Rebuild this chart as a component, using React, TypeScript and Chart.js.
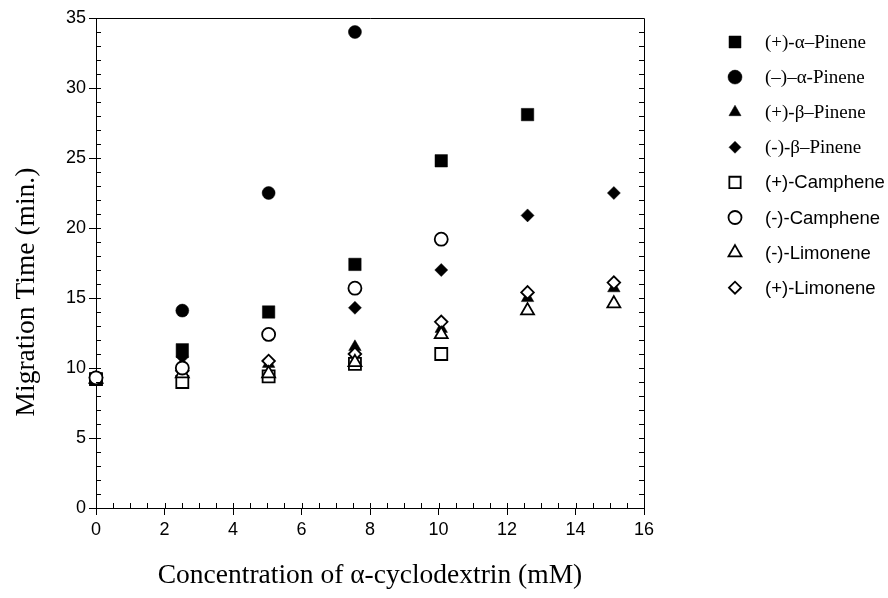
import React, { useEffect, useRef } from "react";
import { Chart, registerables } from "chart.js";
import { drawPoint } from "chart.js/helpers";

Chart.register(...registerables);

// ---- data ----
const CONC = [0, 2.52, 5.04, 7.56, 10.08, 12.6, 15.12];

const LABELS = [
  "(+)-α–Pinene",
  "(–)–α-Pinene",
  "(+)-β–Pinene",
  "(-)-β–Pinene",
  "(+)-Camphene",
  "(-)-Camphene",
  "(-)-Limonene",
  "(+)-Limonene",
];

const PLUS_A_PINENE = [9.2, 11.3, 14.0, 17.4, 24.8, 28.1, null];
const MINUS_A_PINENE = [9.3, 14.1, 22.5, 34.0, null, null, null];
const PLUS_B_PINENE = [9.2, 11.0, 10.3, 11.5, 12.8, 15.0, 15.7];
const MINUS_B_PINENE = [9.2, 10.8, 10.5, 14.3, 17.0, 20.9, 22.5];
const PLUS_CAMPHENE = [9.2, 9.0, 9.4, 10.3, 11.0, null, null];
const MINUS_CAMPHENE = [9.3, 10.0, 12.4, 15.7, 19.2, null, null];
const MINUS_LIMONENE = [9.2, 9.6, 9.6, 10.4, 12.4, 14.1, 14.6];
const PLUS_LIMONENE = [9.3, 9.8, 10.5, 11.0, 13.3, 15.4, 16.1];

const SERIES = [
  PLUS_A_PINENE,
  MINUS_A_PINENE,
  PLUS_B_PINENE,
  MINUS_B_PINENE,
  PLUS_CAMPHENE,
  MINUS_CAMPHENE,
  MINUS_LIMONENE,
  PLUS_LIMONENE,
];

const STYLES = ["rect", "circle", "triangle", "rectRot", "rect", "circle", "triangle", "rectRot"];
const FILLED = [true, true, true, true, false, false, false, false];
const DRAW_ORDER = [2, 2, 2, 2, 3, 1, 1, 1];
const RADII = [8.8, 6.5, 7.2, 6.5, 8.5, 6.5, 7.5, 6.3];
const LEGEND_RADII = [8.5, 7, 7, 6, 8, 6.5, 7.5, 6];
const LEGEND_SERIF = [true, true, true, true, false, false, false, false];

const X_TICK_STEP = 2;
const Y_TICK_STEP = 5;

const SERIF = "'Liberation Serif', 'DejaVu Serif', serif";
const SANS = "'Liberation Sans', Arial, sans-serif";

const decorPlugin = {
  id: "decor",
  afterDraw(chart: any) {
    const { ctx, chartArea: ca, scales } = chart;
    const xs = scales.x;
    const ys = scales.y;
    ctx.save();
    ctx.strokeStyle = "#000";
    ctx.lineWidth = 1;
    ctx.beginPath();
    // top & right frame
    ctx.moveTo(ca.left, ca.top + 0.5);
    ctx.lineTo(ca.right + 0.5, ca.top + 0.5);
    ctx.lineTo(ca.right + 0.5, ca.bottom);
    // minor ticks inside
    for (let v = 0; v <= 16.001; v += 0.5) {
      const px = Math.round(xs.getPixelForValue(v)) + 0.5;
      ctx.moveTo(px, ca.bottom);
      ctx.lineTo(px, ca.bottom - 5);
    }
    for (let v = 0; v <= 35.001; v += 1) {
      const py = Math.round(ys.getPixelForValue(v)) + 0.5;
      ctx.moveTo(ca.left, py);
      ctx.lineTo(ca.left + 5, py);
      ctx.moveTo(ca.right, py);
      ctx.lineTo(ca.right - 5, py);
    }
    ctx.stroke();

    // y title
    ctx.fillStyle = "#000";
    ctx.font = `27.5px ${SERIF}`;
    ctx.textAlign = "center";
    ctx.textBaseline = "middle";
    ctx.save();
    ctx.translate(27, 292);
    ctx.rotate(-Math.PI / 2);
    ctx.fillText("Migration Time (min.)", 0, 0);
    ctx.restore();

    // legend
    chart.data.datasets.forEach((ds: any, i: number) => {
      const y = 42 + i * 35.1;
      const x = 735;
      ctx.fillStyle = FILLED[i] ? "#000" : "#fff";
      ctx.strokeStyle = "#000";
      ctx.lineWidth = FILLED[i] ? 0.5 : 1.8;
      drawPoint(ctx, { pointStyle: STYLES[i], radius: LEGEND_RADII[i], rotation: 0, borderWidth: ctx.lineWidth }, x, y);
      ctx.fillStyle = "#000";
      ctx.textAlign = "left";
      ctx.textBaseline = "middle";
      ctx.font = LEGEND_SERIF[i] ? `19px ${SERIF}` : `18.5px ${SANS}`;
      ctx.fillText(ds.label, 765, y + 1);
    });
    ctx.restore();
  },
};

export default function App() {
  const ref = useRef<HTMLCanvasElement>(null);
  useEffect(() => {
    document.body.style.margin = "0";
    document.body.style.overflow = "hidden";
    const datasets = SERIES.map((vals, i) => ({
      label: LABELS[i],
      data: CONC.map((c, j) => ({ x: c, y: vals[j] })).filter((p) => p.y !== null),
      pointStyle: STYLES[i],
      pointRadius: RADII[i],
      pointHoverRadius: RADII[i],
      backgroundColor: FILLED[i] ? "#000" : "#fff",
      borderColor: "#000",
      borderWidth: FILLED[i] ? 0.5 : 1.8,
      showLine: false,
      clip: false as any,
      order: DRAW_ORDER[i],
    }));
    const chart = new Chart(ref.current!, {
      type: "scatter",
      data: { datasets },
      plugins: [decorPlugin],
      options: {
        animation: false,
        responsive: false,
        layout: { padding: { left: 0, top: 18, right: 244, bottom: 0 } },
        plugins: { legend: { display: false }, tooltip: { enabled: false } },
        scales: {
          x: {
            type: "linear",
            min: 0,
            max: 16,
            ticks: { stepSize: X_TICK_STEP, color: "#000", font: { family: SANS, size: 18 }, padding: 4 },
            grid: { drawOnChartArea: false, color: "#000", tickLength: 7 },
            border: { color: "#000", width: 1 },
            title: {
              display: true,
              text: "Concentration of α-cyclodextrin (mM)",
              color: "#000",
              font: { family: SERIF, size: 27.5 },
              padding: { top: 0, bottom: 6 },
            },
            afterFit: (s: any) => {
              s.height = 90;
            },
          },
          y: {
            type: "linear",
            min: 0,
            max: 35,
            ticks: { stepSize: Y_TICK_STEP, color: "#000", font: { family: SANS, size: 18 }, padding: 3 },
            grid: { drawOnChartArea: false, color: "#000", tickLength: 7 },
            border: { color: "#000", width: 1 },
            afterFit: (s: any) => {
              s.width = 96;
            },
          },
        },
      },
    });
    return () => chart.destroy();
  }, []);
  return (
    <div style={{ width: 888, height: 598 }}>
      <canvas ref={ref} width={888} height={598} style={{ display: "block" }} />
    </div>
  );
}
